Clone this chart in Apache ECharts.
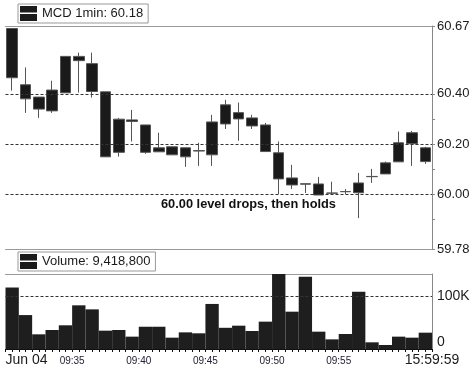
<!DOCTYPE html>
<html><head><meta charset="utf-8">
<script src="https://cdn.jsdelivr.net/npm/echarts@6/dist/echarts.min.js"></script>
<style>html,body{margin:0;padding:0;background:#fff}#c{width:474px;height:370px}</style>
</head><body><div id="c"></div>
<script>
const minutes = ['09:30','09:31','09:32','09:33','09:34','09:35','09:36','09:37','09:38','09:39',
  '09:40','09:41','09:42','09:43','09:44','09:45','09:46','09:47','09:48','09:49',
  '09:50','09:51','09:52','09:53','09:54','09:55','09:56','09:57','09:58','09:59','10:00','10:01'];
const opens  = [60.66,60.436,60.387,60.332,60.404,60.549,60.520,60.408,60.167,60.290,60.276,60.169,60.189,60.185,60.172,60.157,
                60.280,60.325,60.304,60.276,60.165,60.065,60.040,60.041,60.004,60.010,60.006,60.070,60.081,60.129,60.201,60.130];
const closes = [60.464,60.380,60.339,60.415,60.549,60.532,60.409,60.149,60.299,60.296,60.167,60.185,60.157,60.149,60.174,60.288,
                60.356,60.300,60.272,60.170,60.061,60.037,60.042,59.997,60.005,60.011,60.045,60.071,60.125,60.205,60.245,60.185];
const lows   = [60.413,60.324,60.304,60.324,60.404,60.405,60.385,60.149,60.150,60.210,60.161,60.169,60.157,60.109,60.113,60.113,
                60.260,60.213,60.260,60.170,60.001,60.021,60.005,59.997,60.003,60.001,59.905,60.045,60.081,60.129,60.113,60.121];
const highs  = [60.660,60.505,60.387,60.452,60.549,60.564,60.564,60.408,60.304,60.336,60.276,60.245,60.190,60.185,60.205,60.316,
                60.376,60.365,60.316,60.284,60.210,60.117,60.044,60.069,60.050,60.021,60.085,60.101,60.130,60.250,60.252,60.189];
const volumes = [116000,64000,27700,35800,44700,82400,74800,34600,35800,23300,42000,42000,21400,31400,29600,85000,
                 40000,44000,34000,51600,141500,70400,136500,32700,18200,28300,108000,12600,7500,23300,21400,30800];
const priceLabels = [59.78, 60.00, 60.20, 60.40, 60.67];
const priceTicks = [59.78, 59.90, 60.00, 60.10, 60.20, 60.30, 60.40, 60.67];
const priceGridLevels = [60.40, 60.20, 60.00];
const volumeLabels = [0, 100000];
const volumeGridLevels = [100000];
const timeTickPositions = [0, 5, 10, 15, 20, 25, 32];
const timeTickLabels = ['Jun 04', '09:35', '09:40', '09:45', '09:50', '09:55', '15:59:59'];
const priceName = 'MCD 1min: 60.18';
const volumeName = 'Volume: 9,418,800';
const annotation = '60.00 level drops, then holds';

const FONT = 'Liberation Sans, Arial, Helvetica, sans-serif';
const TXT = '#1a1a1a';
const BORDER = '#999';
const icon = 'path://M0,0H17V6.5H0Z M0,8H17V15H0Z';

const candleData = opens.map((o, i) => [o, closes[i], lows[i], highs[i]]);

const chart = echarts.init(document.getElementById('c'), null, {renderer: 'canvas'});
const legendBase = {
  orient: 'horizontal', itemWidth: 17, itemHeight: 15, icon: icon,
  borderColor: BORDER, borderWidth: 1, backgroundColor: '#fff', padding: [2, 5, 2, 2],
  textStyle: {fontSize: 13, color: TXT, fontFamily: FONT},
  itemStyle: {color: '#1a1a1a', borderWidth: 0}, selectedMode: false
};
chart.setOption({
  animation: false,
  textStyle: {fontFamily: FONT},
  legend: [
    Object.assign({}, legendBase, {data: [priceName], left: 18, top: 4}),
    Object.assign({}, legendBase, {data: [volumeName], left: 18, top: 252})
  ],
  grid: [
    {left: 5.5, right: 42, top: 26, height: 223.5},
    {left: 5.5, right: 42, top: 274, height: 75}
  ],
  xAxis: [
    {gridIndex: 0, type: 'category', data: minutes, boundaryGap: true, position: 'bottom',
     axisLine: {onZero: false, lineStyle: {color: BORDER}}, axisTick: {show: false}, axisLabel: {show: false}},
    {gridIndex: 0, type: 'category', data: minutes, boundaryGap: true, position: 'top',
     axisLine: {onZero: false, lineStyle: {color: BORDER}}, axisTick: {show: false}, axisLabel: {show: false}},
    {gridIndex: 1, type: 'category', data: minutes, boundaryGap: true, position: 'top',
     axisLine: {onZero: false, lineStyle: {color: BORDER}}, axisTick: {show: false}, axisLabel: {show: false}},
    {gridIndex: 1, type: 'value', min: 0, max: minutes.length, interval: 0.5, position: 'bottom',
     axisLine: {onZero: false, lineStyle: {color: '#111'}},
     axisTick: {show: true, length: 3, lineStyle: {color: '#111'}},
     splitLine: {show: false},
     axisLabel: {
       margin: 4, alignMinLabel: 'left', alignMaxLabel: 'center', showMinLabel: true, showMaxLabel: true,
       formatter: function (v) {
         const idx = timeTickPositions.findIndex(p => Math.abs(p - v) < 1e-6);
         if (idx < 0) return '';
         const big = (idx === 0 || idx === timeTickPositions.length - 1);
         return big ? '{big|' + timeTickLabels[idx] + '}' : '{small|' + timeTickLabels[idx] + '}';
       },
       rich: {
         big: {fontSize: 14, color: TXT, fontFamily: FONT},
         small: {fontSize: 10, color: '#223', fontFamily: FONT, padding: [3, 0, 0, 0]}
       }
     }}
  ],
  yAxis: [
    {gridIndex: 0, type: 'value', position: 'right', min: 59.78, max: 60.67, scale: true,
     axisLine: {show: true, onZero: false, lineStyle: {color: '#888'}},
     axisTick: {show: true, length: 3, customValues: priceTicks, lineStyle: {color: '#888'}},
     axisLabel: {customValues: priceLabels, margin: 5, fontSize: 13, color: TXT,
                 formatter: v => v.toFixed(2)},
     splitLine: {show: false}},
    {gridIndex: 1, type: 'value', position: 'right', min: 0, max: 141500,
     axisLine: {show: true, onZero: false, lineStyle: {color: '#888'}},
     axisTick: {show: false},
     axisLabel: {customValues: volumeLabels, margin: 5, fontSize: 14, color: TXT,
                 verticalAlignMinLabel: 'bottom',
                 formatter: v => v === 0 ? '0' : (v / 1000) + 'K'},
     splitLine: {show: false}},
  ],
  series: [
    {name: priceName, type: 'candlestick', xAxisIndex: 0, yAxisIndex: 0, data: candleData,
     barWidth: 11,
     itemStyle: {color: '#1a1a1a', color0: '#1a1a1a', borderColor: '#555', borderColor0: '#555', borderWidth: 1},
     markLine: {silent: true, symbol: 'none', label: {show: false},
       lineStyle: {color: '#333', width: 1, type: [3, 2]},
       data: priceGridLevels.map(v => ({yAxis: v}))}},
    {name: volumeName, type: 'bar', xAxisIndex: 2, yAxisIndex: 1, data: volumes,
     barCategoryGap: '0%', itemStyle: {color: '#1e1e1e'},
     markLine: {silent: true, symbol: 'none', label: {show: false},
       lineStyle: {color: '#333', width: 1, type: [3, 2]},
       data: volumeGridLevels.map(v => ({yAxis: v}))}}
  ],
  graphic: [
    {type: 'text', left: 161, top: 198, silent: true,
     style: {text: annotation, font: 'bold 12.8px ' + FONT, fill: '#111'}}
  ]
});
</script>
</body></html>
